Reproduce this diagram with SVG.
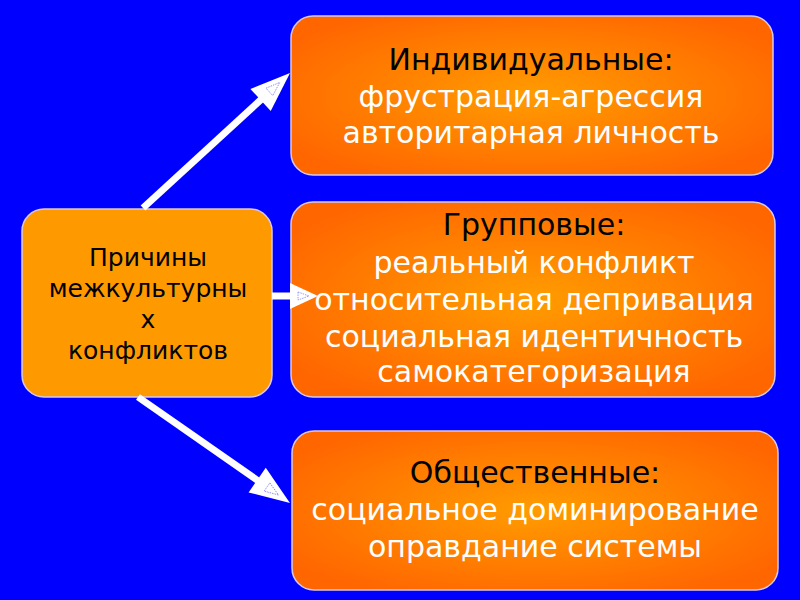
<svg xmlns="http://www.w3.org/2000/svg" width="800" height="600" viewBox="0 0 800 600">
<defs>
<radialGradient id="og" cx="50%" cy="50%" r="60%">
<stop offset="0" stop-color="#FF9C00"/>
<stop offset="1" stop-color="#FF6600"/>
</radialGradient>
<marker id="ah" markerUnits="userSpaceOnUse" markerWidth="42" markerHeight="32" refX="12" refY="15" orient="auto" overflow="visible">
<path d="M0,0 L40,15 L0,30 Z" fill="#FFFFFF"/>
<path d="M12,10 L26,15 L12,20 Z" fill="none" stroke="#7F7FFF" stroke-width="0.8" stroke-dasharray="1.5,1"/>
</marker>
<marker id="ahs" markerUnits="userSpaceOnUse" markerWidth="30" markerHeight="28" refX="8" refY="13" orient="auto" overflow="visible">
<path d="M0,0 L28,13 L0,26 Z" fill="#FFFFFF"/>
<path d="M8,9 L19,13 L8,17 Z" fill="none" stroke="#7F7FFF" stroke-width="0.8" stroke-dasharray="1.5,1"/>
</marker>
<style>
.box{fill:url(#og);stroke:#D8C8E8;stroke-width:1.5}
.src{fill:#FF9900;stroke:#D8C8E8;stroke-width:1.5}
text{font-family:"DejaVu Sans","Noto Sans",sans-serif;text-anchor:middle}
.t{font-size:30px}
.h{fill:#000000}
.w{fill:#FFFFFF}
.s{font-size:25px;fill:#000000}
.c{stroke:#FFFFFF;stroke-width:7;fill:none}
</style>
</defs>
<rect width="800" height="600" fill="#0000FF"/>
<g id="n-causes">
<rect class="src" x="22" y="209" width="250" height="188" rx="22"/>
<text class="s" x="148" y="266">Причины</text>
<text class="s" x="148" y="297">межкультурны</text>
<text class="s" x="148" y="328">х</text>
<text class="s" x="148" y="359">конфликтов</text>
</g>
<g id="n-individual">
<rect class="box" x="291" y="16" width="482" height="159" rx="22"/>
<text class="t h" x="531" y="70">Индивидуальные:</text>
<text class="t w" x="531" y="107">фрустрация-агрессия</text>
<text class="t w" x="531" y="143">авторитарная личность</text>
</g>
<g id="n-group">
<rect class="box" x="291" y="202" width="484" height="195" rx="22"/>
<text class="t h" x="534" y="235">Групповые:</text>
<text class="t w" x="534" y="273">реальный конфликт</text>
<text class="t w" x="534" y="310">относительная депривация</text>
<text class="t w" x="534" y="347">социальная идентичность</text>
<text class="t w" x="534" y="382">самокатегоризация</text>
</g>
<g id="n-social">
<rect class="box" x="292" y="431" width="486" height="159" rx="22"/>
<text class="t h" x="535" y="483">Общественные:</text>
<text class="t w" x="535" y="520">социальное доминирование</text>
<text class="t w" x="535" y="557">оправдание системы</text>
</g>
<g id="connectors">
<line class="c" x1="143" y1="208" x2="269.4" y2="91.9" marker-end="url(#ah)"/>
<line class="c" x1="272" y1="296" x2="298" y2="296" marker-end="url(#ahs)"/>
<line class="c" x1="138" y1="397" x2="267.0" y2="487.0" marker-end="url(#ah)"/>
</g>
</svg>
